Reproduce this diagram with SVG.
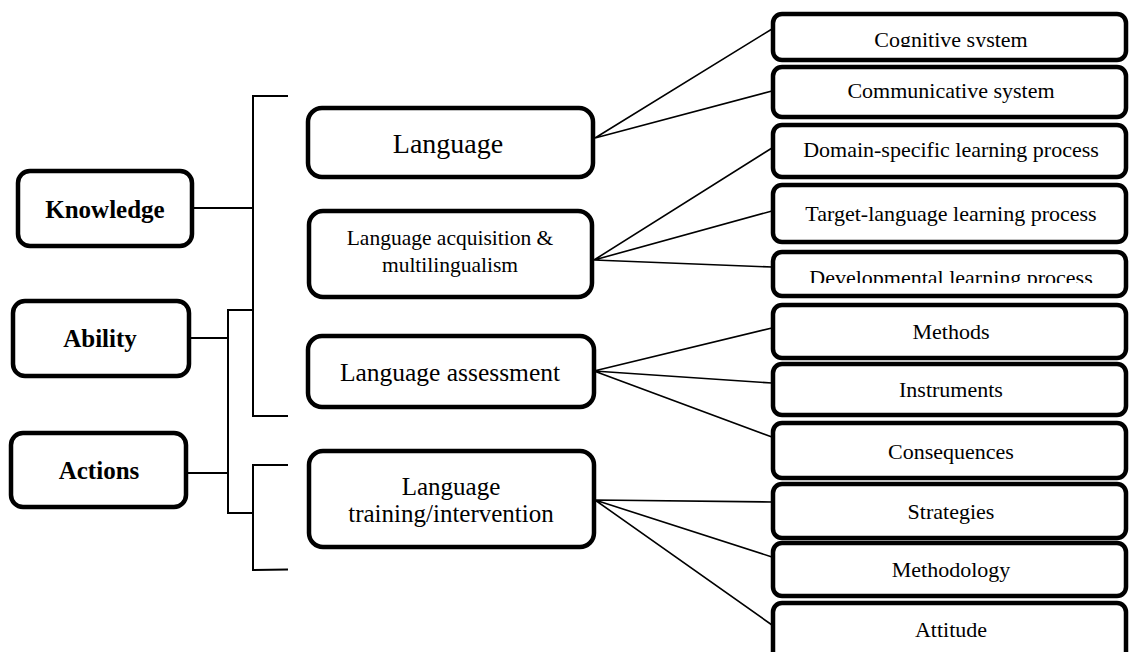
<svg xmlns="http://www.w3.org/2000/svg" width="1129" height="652" viewBox="0 0 1129 652">
<style>
.box{fill:#fff;stroke:#000;stroke-width:4.5}
.rbox{fill:#fff;stroke:#000;stroke-width:4.5}
.ln{fill:none;stroke:#000;stroke-width:2}
.fan{fill:none;stroke:#000;stroke-width:1.6}
.t{font-family:"Liberation Serif","Times New Roman",serif;fill:#000;text-anchor:middle}
.b{font-weight:bold;font-size:25px}
.r{font-size:22px}
</style>
<defs>
<clipPath id="clipCog"><rect x="770" y="0" width="400" height="47"/></clipPath>
<clipPath id="clipDev"><rect x="770" y="250" width="400" height="33"/></clipPath>
</defs>
<rect width="1129" height="652" fill="#fff"/>
<g id="connectors">
<path class="ln" d="M193 208H253M288 96H253V416H288"/>
<path class="ln" d="M190 338H228M253 310H228V513H253M187 473H228"/>
<path class="ln" d="M288 465H253V570L288 569.5"/>
<path class="fan" d="M595 138L772 29M595 138L772 91"/>
<path class="fan" d="M594 260L772 148M594 260L772 211M594 260L772 267"/>
<path class="fan" d="M594 371L772 328M594 371L772 383M594 371L772 437"/>
<path class="fan" d="M595 500L772 502M595 500L772 557M595 500L772 625"/>
</g>
<g id="knowledge"><rect class="box" x="18" y="171" width="174" height="75" rx="12"/><text class="t b" x="105" y="218">Knowledge</text></g>
<g id="ability"><rect class="box" x="13" y="301" width="176" height="75" rx="12"/><text class="t b" x="100" y="347">Ability</text></g>
<g id="actions"><rect class="box" x="11" y="433" width="175" height="74" rx="12"/><text class="t b" x="99" y="479">Actions</text></g>
<g id="language"><rect class="box" x="308" y="108" width="285" height="69" rx="14"/><text class="t" x="448" y="153" font-size="28">Language</text></g>
<g id="acquisition"><rect class="box" x="309" y="211" width="283" height="86" rx="14"/><text class="t" x="450" y="245" font-size="21.5">Language acquisition &amp;</text><text class="t" x="450" y="272" font-size="21.5">multilingualism</text></g>
<g id="assessment"><rect class="box" x="308" y="336" width="286" height="71" rx="14"/><text class="t" x="450" y="381" font-size="25.5">Language assessment</text></g>
<g id="training"><rect class="box" x="309" y="451" width="285" height="96" rx="14"/><text class="t" x="451" y="495" font-size="25">Language</text><text class="t" x="451" y="522" font-size="25">training/intervention</text></g>
<g id="cognitive"><rect class="rbox" x="773" y="14" width="353" height="46" rx="9"/><text class="t r" x="951" y="46.5" clip-path="url(#clipCog)">Cognitive system</text></g>
<g id="communicative"><rect class="rbox" x="773" y="67" width="353" height="50" rx="9"/><text class="t r" x="951" y="98">Communicative system</text></g>
<g id="domain"><rect class="rbox" x="773" y="125" width="353" height="52" rx="9"/><text class="t r" x="951" y="157">Domain-specific learning process</text></g>
<g id="target"><rect class="rbox" x="773" y="185" width="353" height="57" rx="9"/><text class="t r" x="951" y="221">Target-language learning process</text></g>
<g id="developmental"><rect class="rbox" x="773" y="252" width="353" height="44" rx="9"/><text class="t r" x="951" y="285" clip-path="url(#clipDev)">Developmental learning process</text></g>
<g id="methods"><rect class="rbox" x="773" y="305" width="353" height="53" rx="9"/><text class="t r" x="951" y="339">Methods</text></g>
<g id="instruments"><rect class="rbox" x="773" y="364" width="353" height="51" rx="9"/><text class="t r" x="951" y="397">Instruments</text></g>
<g id="consequences"><rect class="rbox" x="773" y="423" width="353" height="55" rx="9"/><text class="t r" x="951" y="459">Consequences</text></g>
<g id="strategies"><rect class="rbox" x="773" y="484" width="353" height="54" rx="9"/><text class="t r" x="951" y="519">Strategies</text></g>
<g id="methodology"><rect class="rbox" x="773" y="543" width="353" height="53" rx="9"/><text class="t r" x="951" y="577">Methodology</text></g>
<g id="attitude"><rect class="rbox" x="773" y="603" width="353" height="60" rx="9"/><text class="t r" x="951" y="637">Attitude</text></g>
</svg>
